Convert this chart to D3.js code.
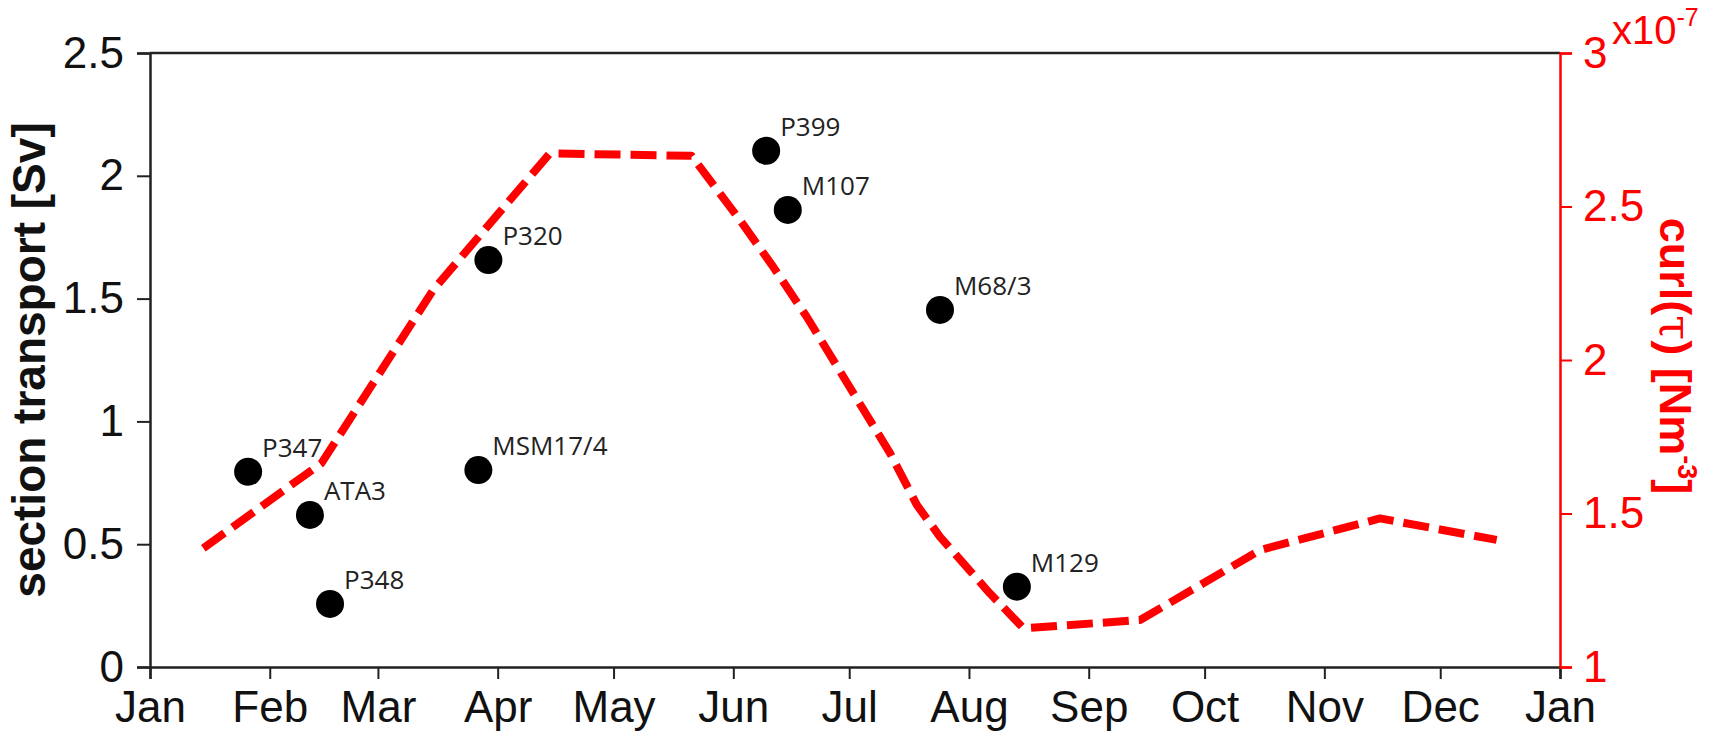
<!DOCTYPE html>
<html>
<head>
<meta charset="utf-8">
<script src="https://cdn.jsdelivr.net/npm/d3@7"></script>
<style>
  html, body { margin: 0; padding: 0; background: #fff; }
  svg { display: block; }
</style>
</head>
<body>
<svg id="chart" width="1725" height="734"></svg>
<script>
// ---------- data ----------
const monthLabels = ["Jan","Feb","Mar","Apr","May","Jun","Jul","Aug","Sep","Oct","Nov","Dec","Jan"];
const leftTicks = [0, 0.5, 1, 1.5, 2, 2.5];
const rightTicks = [1, 1.5, 2, 2.5, 3];          // x 10^-7
const rightExponent = -7;

// cruise section transports (day of year, Sv)
const cruiseNames = ["P347", "ATA3", "P348", "MSM17/4", "P320", "P399", "M107", "M68/3", "M129"];
const cruiseDays = [25.4, 41.4, 46.6, 85.0, 87.6, 159.5, 165.1, 204.5, 224.4];
const cruiseTransport = [0.795, 0.619, 0.257, 0.802, 1.657, 2.102, 1.861, 1.454, 0.327];

// wind stress curl climatology (day of year, x 10^-7 N m^-3)
const curlDays = [13.8, 44.4, 73.3, 103.5, 140.2, 152.7, 161.3, 170.0, 182.9, 191.6, 198.5, 204.5, 217.4, 226.1, 256.3, 287.4, 318.4, 348.6];
const curlValues = [1.387, 1.664, 2.228, 2.673, 2.665, 2.456, 2.304, 2.141, 1.875, 1.696, 1.528, 1.424, 1.240, 1.126, 1.153, 1.381, 1.484, 1.414];

// ---------- layout ----------
const plotL = 150, plotR = 1560, plotT = 53, plotB = 667;
const RED = "#ff0000";
const tickFont = "'Liberation Sans', Arial, Helvetica, sans-serif";
const tickSize = 44;

const t0 = Date.UTC(2001, 0, 1);
const dayToDate = d => new Date(t0 + d * 864e5);
const monthDates = monthLabels.map((m, i) => new Date(Date.UTC(2001, i, 1)));

const x = d3.scaleUtc().domain([new Date(t0), new Date(Date.UTC(2002, 0, 1))]).range([plotL, plotR]);
const yL = d3.scaleLinear().domain([0, 2.5]).range([plotB, plotT]);
const yR = d3.scaleLinear().domain([1, 3]).range([plotB, plotT]);

const svg = d3.select("#chart");

// top box line
svg.append("line")
  .attr("x1", plotL).attr("x2", plotR).attr("y1", plotT).attr("y2", plotT)
  .attr("stroke", "#222").attr("stroke-width", 2.5);

// bottom axis
const gx = svg.append("g").attr("transform", `translate(0,${plotB})`)
  .call(d3.axisBottom(x).tickValues(monthDates).tickFormat((d, i) => monthLabels[i])
        .tickSize(12).tickPadding(12));
gx.select(".domain").attr("stroke", "#222").attr("stroke-width", 2.5);
gx.selectAll(".tick line").attr("stroke", "#222").attr("stroke-width", 2);
gx.selectAll(".tick text").attr("font-family", tickFont).attr("font-size", tickSize).attr("fill", "#111");

// left axis
const gy = svg.append("g").attr("transform", `translate(${plotL},0)`)
  .call(d3.axisLeft(yL).tickValues(leftTicks).tickFormat(d3.format("~g"))
        .tickSize(13).tickPadding(13));
gy.select(".domain").attr("stroke", "#222").attr("stroke-width", 2.5);
gy.selectAll(".tick line").attr("stroke", "#222").attr("stroke-width", 2);
gy.selectAll(".tick text").attr("font-family", tickFont).attr("font-size", tickSize).attr("fill", "#111");

// right axis
const gr = svg.append("g").attr("transform", `translate(${plotR},0)`)
  .call(d3.axisRight(yR).tickValues(rightTicks).tickFormat(d3.format("~g"))
        .tickSize(12).tickPadding(11));
gr.select(".domain").attr("stroke", RED).attr("stroke-width", 2.5);
gr.selectAll(".tick line").attr("stroke", RED).attr("stroke-width", 2);
gr.selectAll(".tick text").attr("font-family", tickFont).attr("font-size", tickSize).attr("fill", RED);

// exponent label
const exp = svg.append("text").attr("x", 1612).attr("y", 44)
  .attr("font-family", tickFont).attr("font-size", 40).attr("fill", RED);
exp.append("tspan").text("x10");
exp.append("tspan").attr("font-size", 25).attr("dy", -18).text(String(rightExponent));

// axis titles
svg.append("text")
  .attr("transform", `translate(45,${(plotT + plotB) / 2}) rotate(-90)`)
  .attr("text-anchor", "middle")
  .attr("font-family", tickFont).attr("font-weight", "bold").attr("font-size", 46)
  .attr("fill", "#111")
  .text("section transport [Sv]");

const rt = svg.append("text")
  .attr("transform", `translate(1660,356) rotate(90)`)
  .attr("text-anchor", "middle")
  .attr("font-family", tickFont).attr("font-weight", "bold").attr("font-size", 45)
  .attr("fill", RED);
rt.append("tspan").text("curl(");
rt.append("tspan").attr("font-weight", "normal").attr("font-family", "'DejaVu Serif', serif").text("\u03c4");
rt.append("tspan").text(") [Nm");
rt.append("tspan").attr("font-size", 27).attr("dy", -18).text("-3");
rt.append("tspan").attr("dy", 18).text("]");

// cruise dots
const cruises = cruiseNames.map((n, i) => ({ name: n, day: cruiseDays[i], v: cruiseTransport[i] }));
svg.append("g").selectAll("circle").data(cruises).join("circle")
  .attr("cx", d => x(dayToDate(d.day)))
  .attr("cy", d => yL(d.v))
  .attr("r", 14)
  .attr("fill", "#000");

svg.append("g").selectAll("text").data(cruises).join("text")
  .attr("x", d => x(dayToDate(d.day)) + 14)
  .attr("y", d => yL(d.v) - 15)
  .attr("font-family", "'Open Sans', 'Noto Sans', sans-serif")
  .attr("font-size", 26)
  .attr("fill", "#222")
  .text(d => d.name);

// curl dashed line
const curl = curlDays.map((d, i) => ({ day: d, v: curlValues[i] }));
svg.append("path")
  .datum(curl)
  .attr("d", d3.line().x(d => x(dayToDate(d.day))).y(d => yR(d.v)))
  .attr("fill", "none")
  .attr("stroke", RED)
  .attr("stroke-width", 8)
  .attr("stroke-linejoin", "round")
  .attr("stroke-dasharray", "26,10");
</script>
</body>
</html>
